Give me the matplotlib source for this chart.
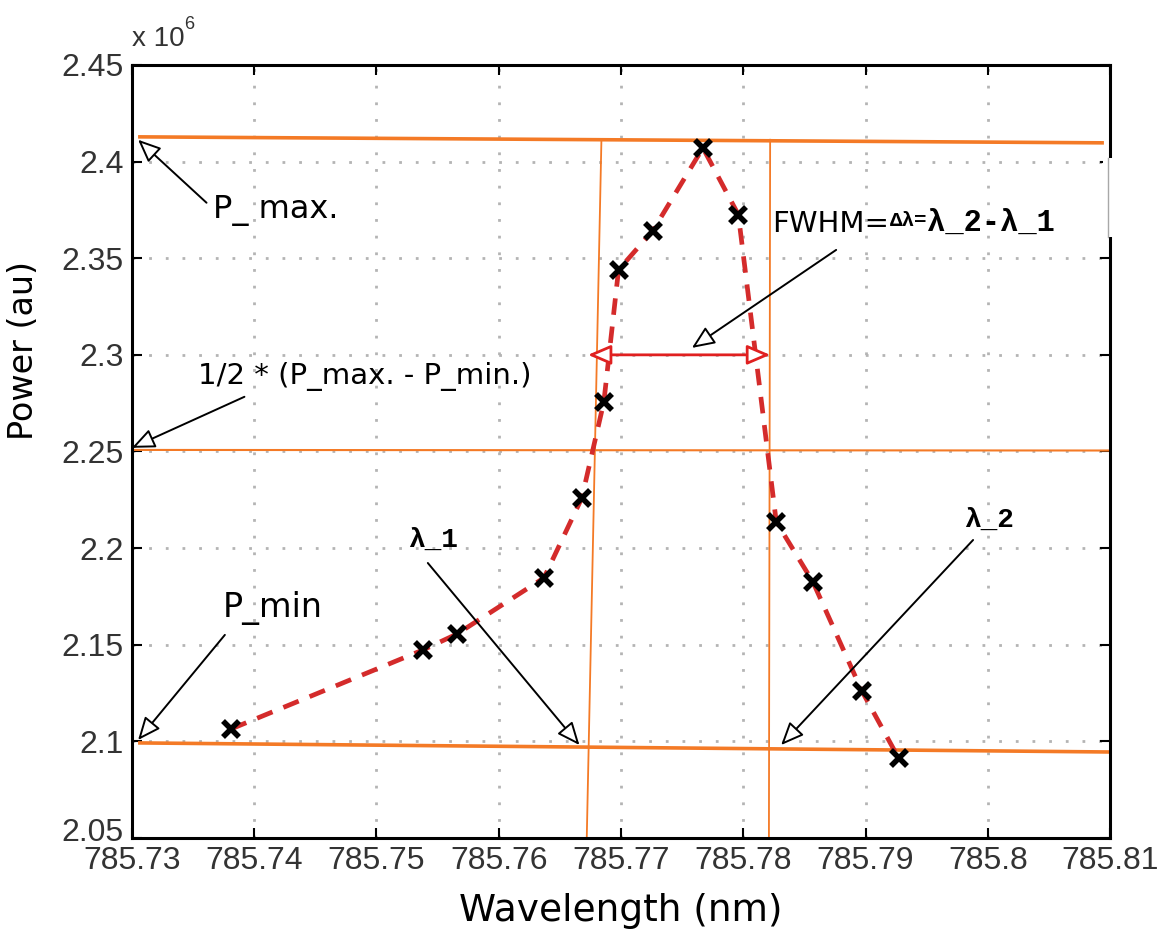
import matplotlib.pyplot as plt
from matplotlib.ticker import FuncFormatter
from matplotlib.patches import Rectangle
from matplotlib.transforms import ScaledTranslation

# measured spectrum around the peak (power in units of 1e6)
wavelength = [785.7381, 785.7538, 785.7566, 785.7637, 785.7668, 785.7686, 785.7698,
              785.7726, 785.7767, 785.7796, 785.7827, 785.7857, 785.7897, 785.7927]
power = [2.1064, 2.1473, 2.1556, 2.1846, 2.2260, 2.2757, 2.3440,
         2.3642, 2.4071, 2.3725, 2.2136, 2.1825, 2.1261, 2.0914]

# construction lines drawn by hand over the plot
pmax_x, pmax_y = [785.7305, 785.8095], [2.4128, 2.4097]
half_x, half_y = [785.7300, 785.8100], [2.2508, 2.2505]
pmin_x, pmin_y = [785.7305, 785.8100], [2.0992, 2.0945]
lam1_x, lam1_y = [785.7684, 785.7672], [2.4113, 2.0500]
lam2_x, lam2_y = [785.7822, 785.7821], [2.4113, 2.0500]
fwhm_level = 2.30

x_ticks = [785.73, 785.74, 785.75, 785.76, 785.77, 785.78, 785.79, 785.80, 785.81]
y_ticks = [2.05, 2.10, 2.15, 2.20, 2.25, 2.30, 2.35, 2.40, 2.45]

orange = "#f47a26"
red = "#d42b2b"
label_font = "DejaVu Sans"
mono = ["Liberation Mono", "DejaVu Sans Mono"]

fig = plt.figure(figsize=(11.74, 9.36), dpi=100)
ax = fig.add_axes([0.1124, 0.1047, 0.8331, 0.8259])
ax.set_xlim(785.73, 785.81)
ax.set_ylim(2.05, 2.45)
ax.set_xticks(x_ticks)
ax.set_yticks(y_ticks)
fmt = FuncFormatter(lambda v, pos: f"{v:g}")
ax.xaxis.set_major_formatter(fmt)
ax.yaxis.set_major_formatter(fmt)
ax.grid(True, ls=(0, (1, 5)), lw=2, color="#b4b4b4")
ax.set_axisbelow(True)
ax.tick_params(direction="in", length=7, width=1.5, top=True, right=True,
               labelsize=23, labelcolor="#333333", pad=6)
for lab in ax.get_xticklabels() + ax.get_yticklabels():
    lab.set_family("Liberation Sans")
# lift the lowest y label a little so it clears the x labels
low = ax.get_yticklabels()[0]
low.set_transform(low.get_transform() + ScaledTranslation(0, 6 / 72, fig.dpi_scale_trans))
for sp in ax.spines.values():
    sp.set_linewidth(2.2)

# data curve
ax.plot(wavelength, power, color=red, lw=3.4, ls=(0, (3.5, 2.5)), zorder=3)
ax.plot(wavelength, power, "x", color="black", ms=11, mew=4, zorder=4)

# P_max / half / P_min levels and the two crossing wavelengths
ax.plot(pmax_x, pmax_y, color=orange, lw=2.6, solid_capstyle="butt", zorder=2)
ax.plot(half_x, half_y, color=orange, lw=1.5, zorder=2)
ax.plot(pmin_x, pmin_y, color=orange, lw=2.6, solid_capstyle="butt", zorder=2)
ax.plot(lam1_x, lam1_y, color=orange, lw=1.3, zorder=2)
ax.plot(lam2_x, lam2_y, color=orange, lw=1.3, zorder=2)

# width arrow between lambda_1 and lambda_2
ax.annotate("", xy=(lam2_x[0], fwhm_level), xytext=(lam1_x[0] - 0.0011, fwhm_level),
            arrowprops=dict(arrowstyle="<|-|>,head_length=0.7,head_width=0.3",
                            fc="white", ec="#e02020", lw=2, shrinkA=0, shrinkB=0,
                            mutation_scale=20), zorder=5)

def pointer(tip, tail):
    ax.annotate("", xy=tip, xytext=tail,
                arrowprops=dict(arrowstyle="-|>,head_length=0.7,head_width=0.3",
                                fc="white", ec="black", lw=1.4, shrinkA=0, shrinkB=0,
                                mutation_scale=20), zorder=6)

pointer((785.7305, 2.4113), (785.7361, 2.3787))
pointer((785.7300, 2.2519), (785.7392, 2.2783))
pointer((785.7305, 2.1007), (785.7376, 2.1551))
pointer((785.7666, 2.0981), (785.7542, 2.1923))
pointer((785.7831, 2.0981), (785.7988, 2.2042))
pointer((785.7758, 2.3036), (785.7876, 2.3543))

ax.text(785.7366, 2.3745, "P_ max.", family=label_font, fontsize=23, va="center")
ax.text(785.7354, 2.2886, "1/2 * (P_max. - P_min.)", family=label_font, fontsize=21,
        va="center")
ax.text(785.7374, 2.1690, "P_min", family=label_font, fontsize=24, va="center")
ax.text(785.7526, 2.2042, "λ_1", family=mono, weight="bold", fontsize=20, va="center")
ax.text(785.7981, 2.2146, "λ_2", family=mono, weight="bold", fontsize=20, va="center")

t1 = ax.text(785.7824, 2.3678, "FWHM=", family=label_font, fontsize=21, va="center")
t2 = ax.annotate("Δλ=", xy=(1, 0.95), xycoords=t1, va="top", ha="left",
                 family=mono, weight="bold", fontsize=15)
ax.annotate("λ_2-λ_1", xy=(1, 1.2), xycoords=t2, va="top", ha="left",
            family=mono, weight="bold", fontsize=22)

# white patch over the right frame next to the formula
ax.add_patch(Rectangle((785.8094, 2.3611), 0.0014, 0.0409, fc="white", ec="none",
                       clip_on=False, zorder=7))
ax.plot([785.8098, 785.8098], [2.3611, 2.4020], color="#a8a8a8", lw=1,
        clip_on=False, zorder=8)

# axis multiplier
tm = ax.text(0.0, 1.017, "x 10", transform=ax.transAxes, family="Liberation Sans",
             fontsize=20, color="#333333", va="bottom")
ax.annotate("6", xy=(1, 0.72), xycoords=tm, va="bottom", ha="left",
            family="Liberation Sans", fontsize=13, color="#333333")

ax.set_xlabel("Wavelength (nm)", family=label_font, fontsize=27, labelpad=12)
ax.set_ylabel("Power (au)", family=label_font, fontsize=24)
ax.yaxis.set_label_coords(-0.094, 0.63)

fig.savefig("out.png", dpi=100)
